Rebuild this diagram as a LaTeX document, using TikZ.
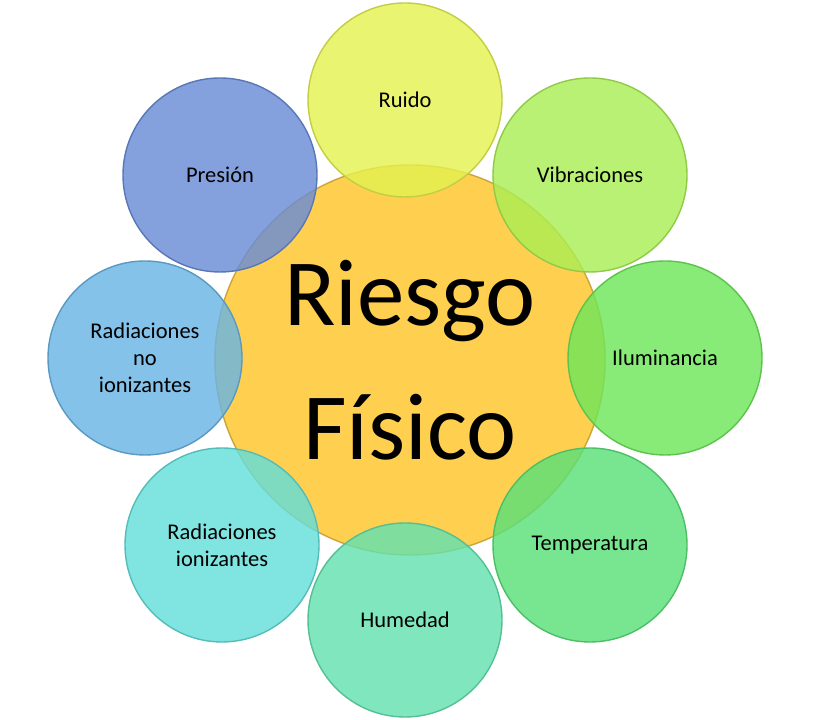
\documentclass[tikz,border=0pt]{standalone}
\usepackage{fontspec}
\setmainfont{Carlito}
\usetikzlibrary{positioning}

\definecolor{centro}{RGB}{255,205,70}
\definecolor{cRuido}{RGB}{228,242,80}
\definecolor{cVibra}{RGB}{170,238,85}
\definecolor{cIlum}{RGB}{110,230,90}
\definecolor{cTemp}{RGB}{90,225,120}
\definecolor{cHum}{RGB}{100,225,175}
\definecolor{cRadI}{RGB}{100,222,218}
\definecolor{cRadN}{RGB}{105,180,228}
\definecolor{cPres}{RGB}{105,140,215}

\tikzset{
    riesgo/.style={circle, minimum size=3.9cm, fill=centro, draw=centro!80!black, fill opacity=.95, text opacity=1, align=center, font=\fontsize{27}{36}\selectfont},
    factor/.style={circle, minimum size=1.94cm, draw=#1!85!black, fill=#1, fill opacity=.82, text opacity=1, align=center, font=\fontsize{6.4}{7.7}\selectfont}
}

\begin{document}
\begin{tikzpicture}
    \useasboundingbox (0,0) rectangle (8.18,7.2);

    % centre
    \node[riesgo] (centro) at (4.10,3.60) {Riesgo\\[2pt]Físico};

    % factores
    \node[factor=cRuido] (ruido) at (4.05,6.20) {Ruido};
    \node[factor=cVibra] (vibra) at (5.90,5.45) {Vibraciones};
    \node[factor=cIlum] (ilum) at (6.65,3.62) {Iluminancia};
    \node[factor=cTemp] (temp) at (5.90,1.75) {Temperatura};
    \node[factor=cHum] (hum) at (4.05,1.00) {Humedad};
    \node[factor=cRadI] (radi) at (2.22,1.75) {Radiaciones\\ionizantes};
    \node[factor=cRadN] (radn) at (1.45,3.62) {Radiaciones\\no\\ionizantes};
    \node[factor=cPres] (pres) at (2.20,5.45) {Presión};
\end{tikzpicture}
\end{document}
